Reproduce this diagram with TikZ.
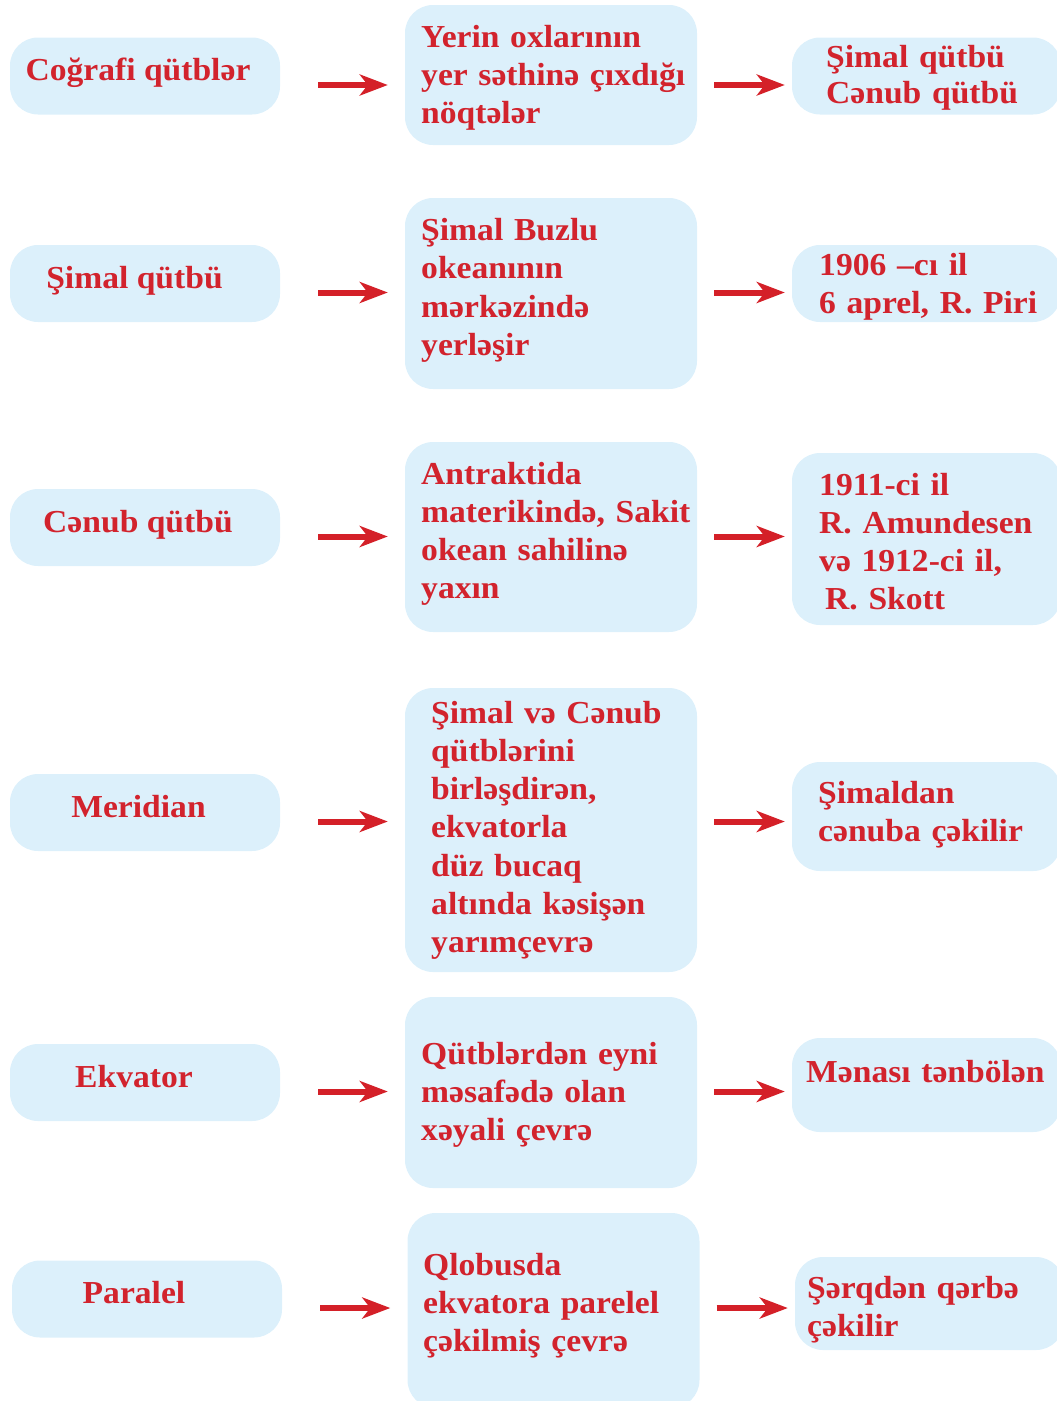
\documentclass[tikz,border=0pt]{standalone}
\usepackage{fontspec}
\setmainfont{Liberation Serif}[FakeStretch=1.05]
\usetikzlibrary{arrows.meta}
\definecolor{boxblue}{RGB}{220,240,251}
\definecolor{txtred}{RGB}{210,35,45}
\definecolor{arrred}{RGB}{212,32,40}

\begin{document}
\begin{tikzpicture}[x=1pt,y=-1pt,
	box/.style={fill=boxblue,rounded corners=28pt,inner sep=0pt},
	lbox/.style={box,minimum width=270pt,minimum height=77pt},
	mbox/.style={box,minimum width=292pt},
	rbox/.style={box,minimum width=269pt},
	txt/.style={text=txtred,font={\fontsize{32pt}{38.3pt}\selectfont\bfseries},inner sep=0pt,align=left,text width=300pt,anchor=base west},
	ltxt/.style={text=txtred,font={\fontsize{32pt}{38.3pt}\selectfont\bfseries},inner sep=0pt,anchor=base},
	arr/.style={draw=arrred,line width=6pt,-{Stealth[length=28pt,width=21pt,inset=8pt]}}]
\useasboundingbox (0,0) rectangle (1057,1401);
\clip (0,0) rectangle (1057,1401);

% boxes
\node[lbox] (L1) at (145,76) {};
\node[lbox] (L2) at (145,283.5) {};
\node[lbox] (L3) at (145,527.5) {};
\node[lbox] (L4) at (145,812.5) {};
\node[lbox] (L5) at (145,1082.5) {};
\node[lbox] (L6) at (147,1299) {};

\node[mbox,minimum height=140pt] (M1) at (551,75) {};
\node[mbox,minimum height=191pt] (M2) at (551,293.5) {};
\node[mbox,minimum height=190pt] (M3) at (551,537) {};
\node[mbox,minimum height=284pt] (M4) at (551,830) {};
\node[mbox,minimum height=191pt] (M5) at (551,1092.5) {};
\node[mbox,minimum height=195pt] (M6) at (553.5,1310.5) {};

\node[rbox,minimum height=77pt] (R1) at (926.5,76) {};
\node[rbox,minimum height=77pt] (R2) at (926.5,283.5) {};
\node[rbox,minimum height=172pt] (R3) at (926.5,539) {};
\node[rbox,minimum height=109pt] (R4) at (926.5,816.5) {};
\node[rbox,minimum height=94pt] (R5) at (926.5,1085) {};
\node[rbox,minimum height=93pt] (R6) at (929.5,1303.5) {};

% texts
\node[ltxt] (tL1) at (138,80) {Coğrafi qütblər};
\node[ltxt] (tL2) at (134.5,288) {Şimal qütbü};
\node[ltxt] (tL3) at (138,532) {Cənub qütbü};
\node[ltxt] (tL4) at (138.5,817) {Meridian};
\node[ltxt] (tL5) at (134,1087) {Ekvator};
\node[ltxt] (tL6) at (134,1303) {Paralel};

\node[txt] (tM1) at (421,47) {Yerin oxlarının\\yer səthinə çıxdığı\\nöqtələr};
\node[txt] (tM2) at (421,240.5) {Şimal Buzlu\\okeanının\\mərkəzində\\yerləşir};
\node[txt] (tM3) at (421,484) {Antraktida\\materikində, Sakit\\okean sahilinə\\yaxın};
\node[txt] (tM4) at (431,723) {Şimal və Cənub\\qütblərini\\birləşdirən,\\ekvatorla\\düz bucaq\\altında kəsişən\\yarımçevrə};
\node[txt] (tM5) at (421,1064) {Qütblərdən eyni\\məsafədə olan\\xəyali çevrə};
\node[txt] (tM6) at (423,1275) {Qlobusda\\ekvatora parelel\\çəkilmiş çevrə};

\node[txt] (tR1) at (826,67) {Şimal qütbü\\[-2pt]Cənub qütbü};
\node[txt] (tR2) at (819,275) {1906 –cı il\\6 aprel, R. Piri};
\node[txt] (tR3) at (819,495) {1911-ci il\\R. Amundesen\\və 1912-ci il,\\\hspace*{6pt}R. Skott};
\node[txt] (tR4) at (818,803) {Şimaldan\\cənuba çəkilir};
\node[txt] (tR5) at (806,1082) {Mənası tənbölən};
\node[txt] (tR6) at (807,1298) {Şərqdən qərbə\\çəkilir};

% arrows
\foreach \i in {1,...,6} {
	\draw[arr] ([shift={(38pt,-9pt)}]L\i.east) -- ([shift={(-17pt,-9pt)}]L\i.east -| M\i.west);
	\draw[arr] ([shift={(17pt,-9pt)}]L\i.east -| M\i.east) -- ([shift={(-7pt,-9pt)}]L\i.east -| R\i.west);
}
\end{tikzpicture}
\end{document}
